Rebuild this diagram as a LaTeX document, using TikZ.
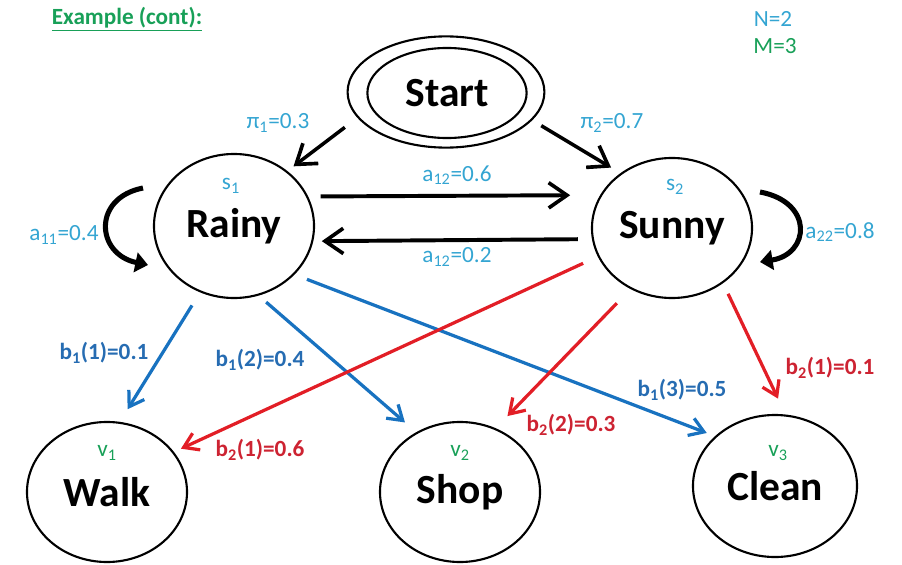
\documentclass[tikz,border=0pt]{standalone}
\usepackage{fontspec}
\setmainfont{Carlito}
\usetikzlibrary{shapes.geometric, arrows.meta, calc}

\definecolor{lblcyan}{RGB}{52,165,210}
\definecolor{lblblue}{RGB}{38,108,178}
\definecolor{arrblue}{RGB}{24,114,192}
\definecolor{arrred}{RGB}{226,30,38}
\definecolor{lblred}{RGB}{205,35,50}
\definecolor{grn}{RGB}{24,160,88}

\tikzset{
  state/.style={draw, ellipse, line width=1.5pt, inner sep=0pt, outer sep=0pt,
    font=\fontsize{29.5}{33}\selectfont\bfseries},
  smalltxt/.style={inner sep=0pt, font=\fontsize{16.5}{19}\selectfont},
  problbl/.style={smalltxt, text=lblcyan},
  emitlbl/.style={smalltxt, font=\fontsize{16.5}{19}\selectfont\bfseries},
  trans/.style={line width=2.8pt, -{Straight Barb[length=13pt, width=18pt, line width=2.6pt]}},
  selfloop/.style={line width=3.6pt, -{Triangle[length=9pt, width=14pt]}},
  emitblue/.style={draw=arrblue, line width=2.3pt, -{Straight Barb[length=10pt, width=13pt]}},
  emitred/.style={draw=arrred, line width=2.3pt, -{Straight Barb[length=10pt, width=13pt]}}
}

\begin{document}
\begin{tikzpicture}[x=0.025cm, y=-0.025cm]
\useasboundingbox (0,0) rectangle (902,565);

% heading and sizes
\node[smalltxt, text=grn, font=\fontsize{16.5}{19}\selectfont\bfseries] (title) at (127,19) {\underline{Example (cont):}};
\node[smalltxt, text=lblcyan] (nsize) at (773,19) {N=2};
\node[smalltxt, text=grn] (msize) at (775,46) {M=3};

% hidden states
\node[state, minimum width=4.92cm, minimum height=2.78cm] (start) at (446,92) {};
\node[state, minimum width=3.98cm, minimum height=2.25cm] (startin) at (447,93) {Start};
\node[state, minimum width=4cm, minimum height=3.6cm] (rainy) at (234,226) {Rainy};
\node[state, minimum width=4cm, minimum height=3.5cm] (sunny) at (672,228) {Sunny};
\node[problbl] (s1) at (231,186) {s\textsubscript{1}};
\node[problbl] (s2) at (675,187) {s\textsubscript{2}};

% observations
\node[state, minimum width=4cm, minimum height=3.5cm] (walk) at (107,492) {Walk};
\node[state, minimum width=4cm, minimum height=3.5cm] (shop) at (460,492) {Shop};
\node[state, minimum width=4.1cm, minimum height=3.55cm] (clean) at (775,486) {Clean};
\node[smalltxt, text=grn] (v1) at (107,453) {v\textsubscript{1}};
\node[smalltxt, text=grn] (v2) at (460,453) {v\textsubscript{2}};
\node[smalltxt, text=grn] (v3) at (778,453) {v\textsubscript{3}};

% initial and transition probabilities
\draw[trans, line width=2.5pt, shorten <=0.42cm, shorten >=0.22cm] (start.196) -- (rainy.46);
\draw[trans, line width=2.5pt, shorten <=0.29cm, shorten >=0.30cm] (start.342) -- (sunny.133);
\draw[trans, shorten <=0.34cm, shorten >=0.78cm] (rainy.22.7) -- (sunny.155.1);
\draw[trans, shorten <=0.38cm, shorten >=0.24cm] (sunny.188.7) -- (rainy.349.9);
\draw[selfloop] ($(rainy)+(-91,-38)$) .. controls ($(rainy)+(-142,-28)$) and ($(rainy)+(-138,28)$) .. ($(rainy)+(-86,39)$);
\draw[selfloop] ($(sunny)+(88,-36)$) .. controls ($(sunny)+(142,-26)$) and ($(sunny)+(138,26)$) .. ($(sunny)+(88,34)$);

\node[problbl] (pi1) at (278,123) {π\textsubscript{1}=0.3};
\node[problbl] (pi2) at (612,123) {π\textsubscript{2}=0.7};
\node[problbl] (a12) at (457,175) {a\textsubscript{12}=0.6};
\node[problbl] (a21) at (457,257) {a\textsubscript{12}=0.2};
\node[problbl] (a11) at (64,235) {a\textsubscript{11}=0.4};
\node[problbl] (a22) at (840,232) {a\textsubscript{22}=0.8};

% emission probabilities
\draw[emitblue, shorten <=0.41cm, shorten >=0.40cm] (rainy.243) -- (walk.80);
\draw[emitblue, shorten <=0.28cm, shorten >=0.40cm] (rainy.289.5) -- (shop.126.4);
\draw[emitblue, shorten <=0.36cm, shorten >=0.25cm] (rainy.321) -- (clean.140);
\draw[emitred, shorten <=0.43cm, shorten >=0.22cm] (sunny.201) -- (walk.31.7);
\draw[emitred, shorten <=0.52cm, shorten >=0.45cm] (sunny.236.3) -- (shop.61.4);
\draw[emitred, shorten <=0.32cm, shorten >=0.47cm] (sunny.313.6) -- (clean.81);

\node[emitlbl, text=lblblue] (b11) at (104,353) {b\textsubscript{1}(1)=0.1};
\node[emitlbl, text=lblblue] (b12) at (260,360) {b\textsubscript{1}(2)=0.4};
\node[emitlbl, text=lblblue] (b13) at (682,390) {b\textsubscript{1}(3)=0.5};
\node[emitlbl, text=lblred] (b21) at (260,450) {b\textsubscript{2}(1)=0.6};
\node[emitlbl, text=lblred] (b22) at (571,425) {b\textsubscript{2}(2)=0.3};
\node[emitlbl, text=lblred] (b23) at (830,368) {b\textsubscript{2}(1)=0.1};
\end{tikzpicture}
\end{document}
